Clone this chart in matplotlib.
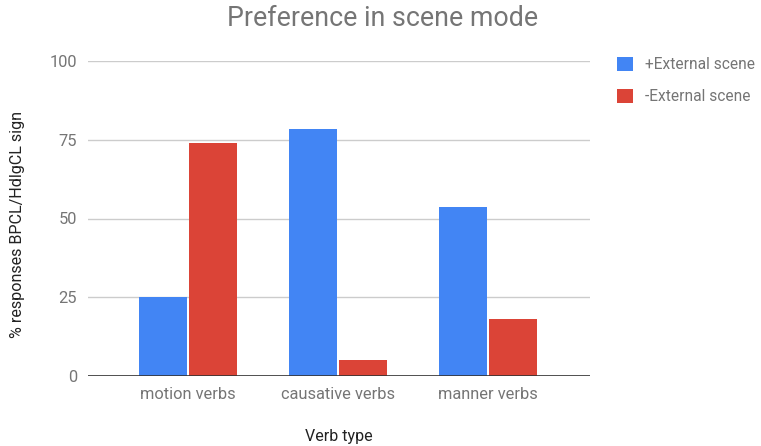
import matplotlib
matplotlib.use("Agg")
import matplotlib.pyplot as plt
import numpy as np

categories = ["motion verbs", "causative verbs", "manner verbs"]
plus_external = [25, 78.5, 53.5]
minus_external = [74, 5, 18]
series_names = ["+External scene", "-External scene"]
yticks = [0, 25, 50, 75, 100]

plt.rcParams['font.family'] = ['Roboto', 'DejaVu Sans']

fig = plt.figure(figsize=(7.61, 4.46), dpi=100)
ax = fig.add_axes([88/761, 1-376/446, (590-88)/761, (376-61)/446])

x = np.arange(len(categories))
w = 0.32
gap = 0.01
b1 = ax.bar(x - w/2 - gap/2, plus_external, width=w, color="#4285f4", label=series_names[0], zorder=3)
b2 = ax.bar(x + w/2 + gap/2, minus_external, width=w, color="#db4437", label=series_names[1], zorder=3)

ax.set_xlim(-0.667, 2.68)
ax.set_ylim(0, 100)
ax.set_yticks(yticks)
ax.set_yticklabels([str(t) for t in yticks])
ax.set_xticks(x)
ax.set_xticklabels(categories)
ax.tick_params(axis='both', length=0, labelsize=11.8, colors="#444444", labelcolor="#757575")
ax.tick_params(axis='y', pad=8)
ax.tick_params(axis='x', pad=8)
for s in ax.spines.values():
    s.set_visible(False)
ax.grid(axis='y', color="#cccccc", linewidth=1, zorder=0)
ax.axhline(0, color="#333333", linewidth=1.2, zorder=4)

fig.text(383/761, 1-18/446, "Preference in scene mode", fontsize=19.3, color="#757575",
         ha="center", va="center")
fig.text(339/761, 1-437/446, "Verb type", fontsize=11.5, color="#222222",
         ha="center", va="center")
fig.text(18/761, 1-224/446, "% responses BPCL/HdlgCL sign", fontsize=11.6, color="#222222",
         ha="center", va="center", rotation=90)

fig.legend(handles=[b1, b2], labels=series_names, loc="upper left",
           bbox_to_anchor=(603/761, 1-43/446), frameon=False, fontsize=11.2,
           labelcolor="#757575", handlelength=1.0, handleheight=1.0,
           handletextpad=0.8, labelspacing=1.05)

fig.savefig("out.png", dpi=100)
